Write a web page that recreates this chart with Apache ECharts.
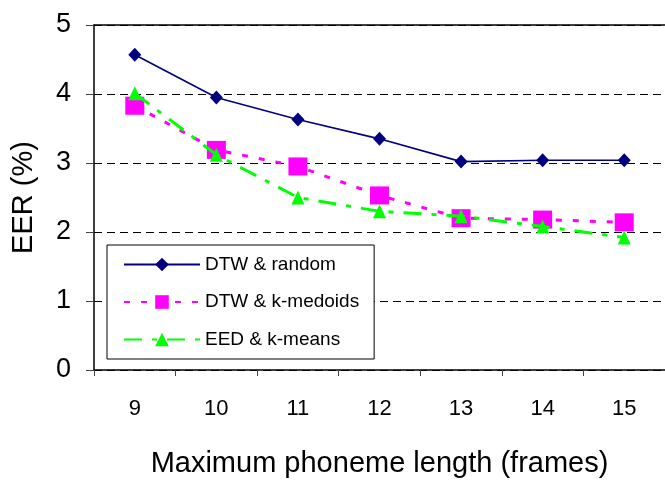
<!DOCTYPE html>
<html>
<head>
<meta charset="utf-8">
<script src="https://cdn.jsdelivr.net/npm/echarts@6/dist/echarts.min.js"></script>
<style>
html,body{margin:0;padding:0;background:#fff;}
#chart{width:665px;height:483px;}
</style>
</head>
<body>
<div id="chart"></div>
<script>
const categories = ['9','10','11','12','13','14','15'];
const dtwRandom = [4.57, 3.95, 3.63, 3.35, 3.02, 3.04, 3.04];
const dtwKmedoids = [3.83, 3.19, 2.95, 2.53, 2.20, 2.18, 2.14];
const eedKmeans = [4.01, 3.12, 2.50, 2.30, 2.23, 2.08, 1.92];
const seriesNames = ['DTW & random', 'DTW & k-medoids', 'EED & k-means'];
const xTitle = 'Maximum phoneme length (frames)';
const yTitle = 'EER (%)';

const FONT = 'Liberation Sans, Arial, sans-serif';
const chart = echarts.init(document.getElementById('chart'));
chart.setOption({
  animation: false,
  backgroundColor: '#fff',
  grid: { left: 94, top: 25, width: 580, height: 346, containLabel: false },
  legend: {
    orient: 'vertical',
    left: 107, top: 245,
    width: 266,
    padding: [10, 15, 10, 16],
    itemWidth: 76, itemHeight: 17, itemGap: 18.5,
    backgroundColor: '#fff',
    borderColor: '#000', borderWidth: 1,
    align: 'left',
    textStyle: { fontFamily: FONT, fontSize: 19, color: '#000', padding: [0,0,0,0] },
    data: seriesNames
  },
  xAxis: [{
    type: 'category',
    data: categories,
    boundaryGap: true,
    name: xTitle,
    nameLocation: 'middle',
    nameGap: 79,
    nameTextStyle: { fontFamily: FONT, fontSize: 29, color: '#000' },
    axisLine: { lineStyle: { color: '#000', width: 1.5 } },
    axisTick: { show: true, length: 6, lineStyle: { color: '#444' } },
    axisLabel: { fontFamily: FONT, fontSize: 22, color: '#000', margin: 28 },
    splitLine: { show: false }
  }, {
    type: 'category',
    data: categories,
    position: 'top',
    axisLine: { lineStyle: { color: '#000', width: 1.5 } },
    axisTick: { show: false },
    axisLabel: { show: false },
    splitLine: { show: false }
  }],
  yAxis: {
    type: 'value',
    min: 0, max: 5, interval: 1,
    name: yTitle,
    nameLocation: 'middle',
    nameGap: 56,
    nameTextStyle: { fontFamily: FONT, fontSize: 29, color: '#000' },
    axisLine: { show: true, lineStyle: { color: '#000', width: 1.5 } },
    axisTick: { show: true, length: 8, lineStyle: { color: '#444' } },
    axisLabel: { fontFamily: FONT, fontSize: 27, color: '#000', margin: 23 },
    splitLine: { show: true, lineStyle: { color: '#000', width: 1, type: [8, 5] } }
  },
  series: [{
    name: seriesNames[0],
    type: 'line',
    data: dtwRandom,
    symbol: 'diamond', symbolSize: [13, 14],
    lineStyle: { color: '#000080', width: 1.6, type: 'solid' },
    itemStyle: { color: '#000080' },
    z: 2
  }, {
    name: seriesNames[1],
    type: 'line',
    data: dtwKmedoids,
    symbol: 'rect', symbolSize: [19, 18],
    lineStyle: { color: '#ff00ff', width: 3, type: [6, 11] },
    itemStyle: { color: '#ff00ff' },
    z: 3
  }, {
    name: seriesNames[2],
    type: 'line',
    data: eedKmeans,
    symbol: 'triangle', symbolSize: [13, 14],
    lineStyle: { color: '#00ff00', width: 3, type: [18, 10, 5, 10] },
    itemStyle: { color: '#00ff00' },
    z: 4
  }]
});
</script>
</body>
</html>
